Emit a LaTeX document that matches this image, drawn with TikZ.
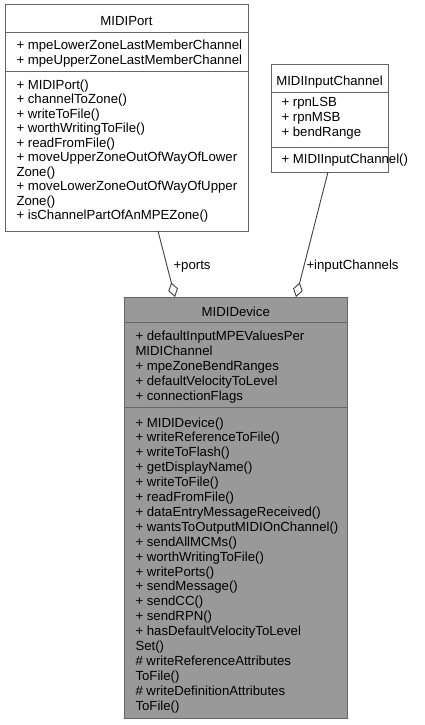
\documentclass[tikz,border=0pt]{standalone}
\usepackage{fontspec}
\setmainfont{Liberation Sans}
\usetikzlibrary{arrows.meta}
\definecolor{boxborder}{HTML}{666666}
\definecolor{devfill}{HTML}{999999}
\definecolor{edgecol}{HTML}{404040}
\tikzset{
  umlbox/.style={draw=boxborder, line width=1pt, inner sep=0pt, outer sep=0pt, rectangle},
  sepline/.style={draw=boxborder, line width=1pt},
  txt/.style={font=\fontsize{13.2}{15}\selectfont, inner sep=0pt, outer sep=0pt, text=black},
  aggr/.style={draw=edgecol, line width=0.9pt, {Diamond[open, length=15pt, width=10pt, line width=0.9pt]}-}
}
\begin{document}
\begin{tikzpicture}[x=1pt, y=-1pt]
\useasboundingbox (0,0) rectangle (424,725);
% boxes
\node[umlbox, fill=white, minimum width=243pt, minimum height=226pt] (port) at (126.5,118) {};
\node[umlbox, fill=white, minimum width=117pt, minimum height=107pt] (inch) at (329.5,118.5) {};
\node[umlbox, fill=devfill, minimum width=223.5pt, minimum height=421.5pt] (dev) at (235.75,507.75) {};
% separators
\draw[sepline] (port.west |- 0,32.3) -- (port.east |- 0,32.3);
\draw[sepline] (port.west |- 0,71.7) -- (port.east |- 0,71.7);
\draw[sepline] (inch.west |- 0,92.3) -- (inch.east |- 0,92.3);
\draw[sepline] (inch.west |- 0,147.3) -- (inch.east |- 0,147.3);
\draw[sepline] (dev.west |- 0,322.5) -- (dev.east |- 0,322.5);
\draw[sepline] (dev.west |- 0,407.5) -- (dev.east |- 0,407.5);
% titles
\node[txt, anchor=base] (porttitle) at (126.5,26) {MIDIPort};
\node[txt, anchor=base] (inchtitle) at (329.5,85) {MIDIInputChannel};
\node[txt, anchor=base] (devtitle) at (235.75,316) {MIDIDevice};
% MIDIPort
\foreach [count=\i] \t in {+ mpeLowerZoneLastMemberChannel, + mpeUpperZoneLastMemberChannel}
  \node[txt, anchor=base west] (pa\i) at (16.5,{50+15*(\i-1)}) {\t};
\foreach [count=\i] \t in {+ MIDIPort(), + channelToZone(), + writeToFile(), + worthWritingToFile(), + readFromFile(), + moveUpperZoneOutOfWayOfLower, Zone(), + moveLowerZoneOutOfWayOfUpper, Zone(), + isChannelPartOfAnMPEZone()}
  \node[txt, anchor=base west] (pm\i) at (16.5,{89+14.5*(\i-1)}) {\t};
% MIDIInputChannel
\foreach [count=\i] \t in {+ rpnLSB, + rpnMSB, + bendRange}
  \node[txt, anchor=base west] (ia\i) at (281.5,{106.7+15*(\i-1)}) {\t};
\node[txt, anchor=base west] (im1) at (281.5,163.3) {+ MIDIInputChannel()};
% MIDIDevice
\foreach [count=\i] \t in {+ defaultInputMPEValuesPer, MIDIChannel, + mpeZoneBendRanges, + defaultVelocityToLevel, + connectionFlags}
  \node[txt, anchor=base west] (da\i) at (135.5,{340+15*(\i-1)}) {\t};
\foreach [count=\i] \t in {+ MIDIDevice(), + writeReferenceToFile(), + writeToFlash(), + getDisplayName(), + writeToFile(), + readFromFile(), + dataEntryMessageReceived(), + wantsToOutputMIDIOnChannel(), + sendAllMCMs(), + worthWritingToFile(), + writePorts(), + sendMessage(), + sendCC(), + sendRPN(), + hasDefaultVelocityToLevel, Set(), \# writeReferenceAttributes, ToFile(), \# writeDefinitionAttributes, ToFile()}
  \node[txt, anchor=base west] (dm\i) at (135.5,{427+14.9*(\i-1)}) {\t};
% connectors
\draw[aggr] (dev.north -| 175,0) -- (port.south -| 158,0);
\draw[aggr] (dev.north -| 296,0) -- (inch.south -| 328,0);
\node[txt, anchor=base west] (lports) at (173.5,269) {+ports};
\node[txt, anchor=base west] (linch) at (306.5,269) {+inputChannels};
\end{tikzpicture}
\end{document}
